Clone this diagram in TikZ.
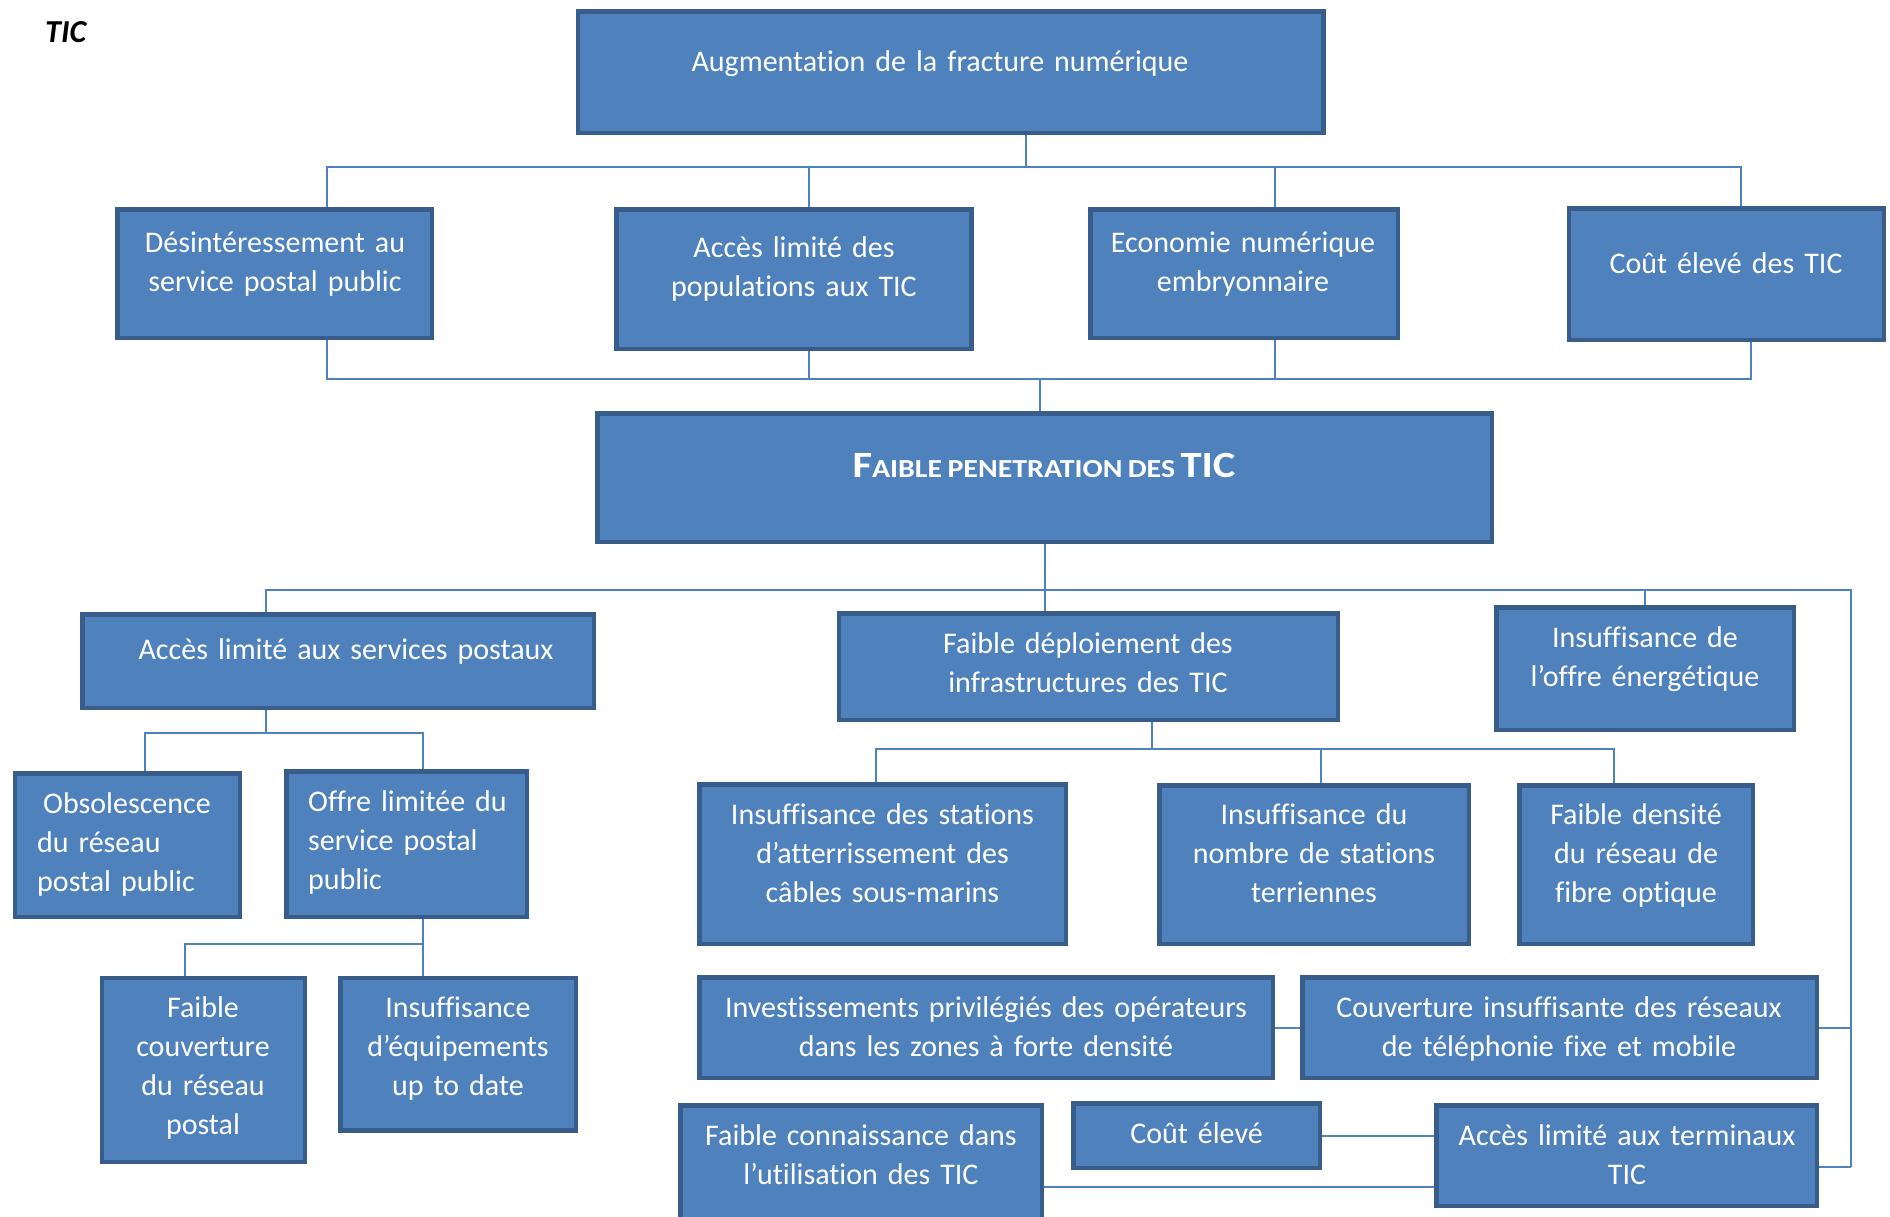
\documentclass[tikz,border=0pt]{standalone}
\usepackage{fontspec}
\setmainfont{Carlito}[WordSpace=0.8, Ligatures=NoCommon]
\definecolor{boxfill}{RGB}{79,129,189}
\definecolor{boxline}{RGB}{56,93,138}
\definecolor{linkblue}{RGB}{79,129,189}
\pgfdeclarelayer{links}
\pgfsetlayers{links,main}
% box given by its outer edges: name, left, top, right, bottom
\newcommand\placebox[5]{%
  \node[cbox, minimum width={#4-#2-4.5}, minimum height={#5-#3-4.5}]
    (#1) at ({(#2+#4)/2},{(#3+#5)/2}) {};}
\begin{document}
\begin{tikzpicture}[x=1pt,y=-1pt,
  cbox/.style={draw=boxline, fill=boxfill, line width=4.5pt, rectangle,
    inner sep=0pt, outer sep=0pt},
  lbl/.style={text=white, font=\fontsize{30}{39}\selectfont, align=center,
    text width=700pt, inner sep=0pt, anchor=base},
  lbll/.style={lbl, align=left, anchor=base west},
  conn/.style={draw=linkblue, line width=2pt}]
\useasboundingbox (0,0) rectangle (1890,1216);
\clip (0,0) rectangle (1890,1216);

\node[font=\fontsize{32}{38}\selectfont\bfseries\itshape, anchor=base west,
  inner sep=0pt] (ttl) at (45,42) {TIC};

% boxes
\placebox{top}{575.5}{9}{1325.5}{135}
\placebox{d1}{115}{207}{434}{340}
\placebox{d2}{614}{207}{973.5}{351}
\placebox{d3}{1088}{207}{1400}{340}
\placebox{d4}{1566.5}{206}{1886}{342}
\placebox{fp}{595}{411}{1494}{544}
\placebox{p1}{80}{612}{596}{710}
\placebox{p2}{12.5}{771}{242}{919}
\placebox{p3}{284}{769}{529}{919}
\placebox{p4}{99.5}{975.5}{307}{1164}
\placebox{p5}{338}{975.5}{578}{1132.5}
\placebox{i1}{836.5}{611}{1340}{722}
\placebox{e1}{1494}{605}{1796}{732}
\placebox{i2}{697}{782}{1068}{946}
\placebox{i3}{1157}{783}{1471}{946}
\placebox{i4}{1517}{783}{1755}{946}
\placebox{c1}{697}{975}{1275}{1080}
\placebox{c2}{1300}{975}{1819}{1080}
\placebox{c3}{678}{1103}{1044}{1271}
\placebox{c4}{1071}{1101}{1322}{1170}
\placebox{c5}{1434}{1103}{1819}{1208}

% labels
\node[lbl] (topt) at (940,71) {Augmentation de la fracture numérique};
\node[lbl] (d1t) at (275,252) {Désintéressement au\\service postal public};
\node[lbl] (d2t) at (794,257) {Accès limité des\\populations aux TIC};
\node[lbl] (d3t) at (1243,252) {Economie numérique\\embryonnaire};
\node[lbl] (d4t) at (1726,273) {Coût élevé des TIC};
\node[text=white, inner sep=0pt, anchor=base,
  font=\bfseries\addfontfeature{FakeStretch=1.15}] (fpt) at (1044,477)
  {\fontsize{37}{42}\selectfont F\fontsize{26}{30}\selectfont AIBLE PENETRATION DES
   \fontsize{37}{42}\selectfont TIC};
\node[lbl] (p1t) at (346,659) {Accès limité aux services postaux};
\node[lbll] (p2t) at (37,813) {\hspace*{6pt}Obsolescence\\du réseau\\postal public};
\node[lbll] (p3t) at (308,811) {Offre limitée du\\service postal\\public};
\node[lbl] (p4t) at (203,1017) {Faible\\couverture\\du réseau\\postal};
\node[lbl] (p5t) at (458,1017) {Insuffisance\\d’équipements\\up to date};
\node[lbl] (i1t) at (1088,653) {Faible déploiement des\\infrastructures des TIC};
\node[lbl] (e1t) at (1645,647) {Insuffisance de\\l’offre énergétique};
\node[lbl] (i2t) at (882.5,824) {Insuffisance des stations\\d’atterrissement des\\câbles sous-marins};
\node[lbl] (i3t) at (1314,824) {Insuffisance du\\nombre de stations\\terriennes};
\node[lbl] (i4t) at (1636,824) {Faible densité\\du réseau de\\fibre optique};
\node[lbl] (c1t) at (986,1017) {Investissements privilégiés des opérateurs\\dans les zones à forte densité};
\node[lbl] (c2t) at (1559,1017) {Couverture insuffisante des réseaux\\de téléphonie fixe et mobile};
\node[lbl] (c3t) at (861,1145) {Faible connaissance dans\\l’utilisation des TIC};
\node[lbl] (c4t) at (1196.5,1143) {Coût élevé};
\node[lbl] (c5t) at (1627,1145) {Accès limité aux terminaux\\TIC};

% connectors
\coordinate (busA) at (0,167);
\coordinate (busB) at (0,379);
\coordinate (busC) at (0,590);
\coordinate (busD) at (0,733);
\coordinate (busE) at (0,944);
\coordinate (busF) at (0,749);
\coordinate (rail) at (1851,1167);
\begin{pgfonlayer}{links}
  % upper tree
  \draw[conn] ([xshift=75]top.south) -- ([xshift=75]top.south |- busA);
  \draw[conn] ([xshift=52.5]d1.north) |- ([xshift=14.75]d4.north |- busA)
    -- ([xshift=14.75]d4.north);
  \draw[conn] ([xshift=15.25]d2.north) -- ([xshift=15.25]d2.north |- busA);
  \draw[conn] ([xshift=30.5]d3.north) -- ([xshift=30.5]d3.north |- busA);
  % causes joined to the central box
  \draw[conn] ([xshift=52.5]d1.south) |- ([xshift=24.75]d4.south |- busB)
    -- ([xshift=24.75]d4.south);
  \draw[conn] ([xshift=15.25]d2.south) -- ([xshift=15.25]d2.south |- busB);
  \draw[conn] ([xshift=30.5]d3.south) -- ([xshift=30.5]d3.south |- busB);
  \draw[conn] ([xshift=-5]fp.north) -- ([xshift=-5]fp.north |- busB);
  % lower tree
  \draw[conn] (fp.south) -- (fp.south |- i1.north);
  \draw[conn] ([xshift=-72]p1.north) |- (rail |- busC) -- (rail);
  \draw[conn] (e1.north) -- (e1.north |- busC);
  \draw[conn] (c2.east) -- (c2.east -| rail);
  \draw[conn] ([yshift=-11.5]c5.east) -- (rail);
  % postal branch
  \draw[conn] ([xshift=-72]p1.south) -- ([xshift=-72]p1.south |- busD);
  \draw[conn] ([xshift=17.75]p2.north) |- ([xshift=16.5]p3.north |- busD)
    -- ([xshift=16.5]p3.north);
  \draw[conn] ([xshift=16.5]p3.south) -- ([xshift=16.5]p3.south |- p5.north);
  \draw[conn] ([xshift=-18.25]p4.north) |- ([xshift=16.5]p3.south |- busE);
  % infrastructure branch
  \draw[conn] ([xshift=63.75]i1.south) -- ([xshift=63.75]i1.south |- busF);
  \draw[conn] ([xshift=-6.5]i2.north) |- ([xshift=-22]i4.north |- busF)
    -- ([xshift=-22]i4.north);
  \draw[conn] ([xshift=6.6]i3.north) -- ([xshift=6.6]i3.north |- busF);
  % bottom row links
  \draw[conn] (c1.east) -- (c1.east -| c2.west);
  \draw[conn] (c4.east) -- (c4.east -| c5.west);
  \draw[conn] (c3.east) -- (c3.east -| c5.west);
\end{pgfonlayer}
\end{tikzpicture}
\end{document}
